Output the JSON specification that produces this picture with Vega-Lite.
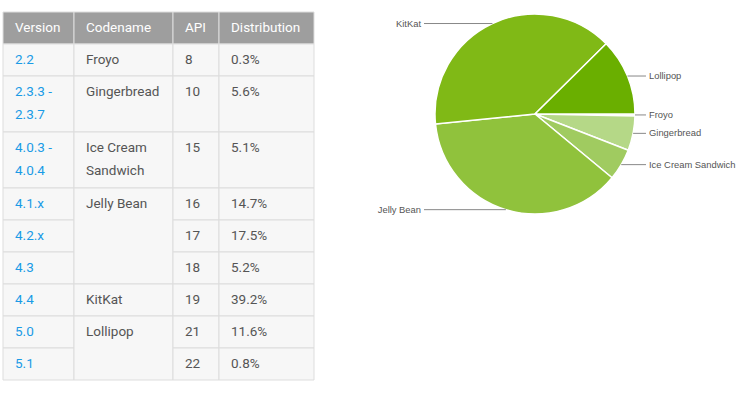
{
  "$schema": "https://vega.github.io/schema/vega-lite/v6.json",
  "padding": {"left": 2, "top": 11, "right": 2, "bottom": 2},
  "background": "white",
  "config": {"view": {"stroke": null}},
  "datasets": {
    "rows": [
      {"version": "Version", "codename": "Codename", "api": "API", "distribution": "Distribution", "header": true},
      {"version": "2.2", "codename": "Froyo", "api": "8", "distribution": "0.3%", "header": false},
      {"version": "2.3.3 -\n2.3.7", "codename": "Gingerbread", "api": "10", "distribution": "5.6%", "header": false},
      {"version": "4.0.3 -\n4.0.4", "codename": "Ice Cream\nSandwich", "api": "15", "distribution": "5.1%", "header": false},
      {"version": "4.1.x", "codename": "Jelly Bean", "api": "16", "distribution": "14.7%", "header": false},
      {"version": "4.2.x", "codename": "Jelly Bean", "api": "17", "distribution": "17.5%", "header": false},
      {"version": "4.3", "codename": "Jelly Bean", "api": "18", "distribution": "5.2%", "header": false},
      {"version": "4.4", "codename": "KitKat", "api": "19", "distribution": "39.2%", "header": false},
      {"version": "5.0", "codename": "Lollipop", "api": "21", "distribution": "11.6%", "header": false},
      {"version": "5.1", "codename": "Lollipop", "api": "22", "distribution": "0.8%", "header": false}
    ]
  },
  "spacing": 20,
  "hconcat": [
    {
      "spacing": 0,
      "bounds": "flush",
      "hconcat": [
        {
          "width": 71, "height": 368,
          "data": {"name": "rows"},
          "transform": [
            {"calculate": "(indexof(datum.version, '\\n') >= 0 || indexof(datum.codename, '\\n') >= 0) ? 56 : 32", "as": "h"},
            {"window": [{"op": "row_number", "as": "rowIdx"}]},
            {"window": [{"op": "sum", "field": "h", "as": "bottom"}], "sort": [{"field": "rowIdx"}], "frame": [null, 0]},
            {"calculate": "datum.bottom - datum.h", "as": "top"}
          ],
          "layer": [
            {
              "mark": {"type": "rect", "stroke": "#dddddd", "strokeWidth": 1},
              "encoding": {
                "x": {"value": 0}, "x2": {"value": "width"},
                "y": {"field": "top", "type": "quantitative", "scale": {"domain": [0, 368], "reverse": true}, "axis": null},
                "y2": {"field": "bottom"},
                "fill": {"condition": {"test": "datum.header", "value": "#9e9e9e"}, "value": "#f7f7f7"}
              }
            },
            {
              "mark": {"type": "text", "align": "left", "baseline": "top", "dx": 12, "dy": 9, "font": "Roboto", "fontSize": 13.5, "lineBreak": "\n", "lineHeight": 23},
              "encoding": {
                "x": {"value": 0},
                "y": {"field": "top", "type": "quantitative", "scale": {"domain": [0, 368], "reverse": true}, "axis": null},
                "text": {"field": "version", "type": "nominal"},
                "color": {"condition": {"test": "datum.header", "value": "#ffffff"}, "value": "#1a9be6"}
              }
            }
          ]
        },
        {
          "width": 99, "height": 368,
          "data": {"name": "rows"},
          "transform": [
            {"calculate": "(indexof(datum.version, '\\n') >= 0 || indexof(datum.codename, '\\n') >= 0) ? 56 : 32", "as": "h"},
            {"window": [{"op": "row_number", "as": "rowIdx"}]},
            {"window": [{"op": "sum", "field": "h", "as": "bottom"}], "sort": [{"field": "rowIdx"}], "frame": [null, 0]},
            {"calculate": "datum.bottom - datum.h", "as": "top"},
            {"aggregate": [{"op": "min", "field": "top", "as": "top"}, {"op": "max", "field": "bottom", "as": "bottom"}], "groupby": ["codename", "header"]}
          ],
          "layer": [
            {
              "mark": {"type": "rect", "stroke": "#dddddd", "strokeWidth": 1},
              "encoding": {
                "x": {"value": 0}, "x2": {"value": "width"},
                "y": {"field": "top", "type": "quantitative", "scale": {"domain": [0, 368], "reverse": true}, "axis": null},
                "y2": {"field": "bottom"},
                "fill": {"condition": {"test": "datum.header", "value": "#9e9e9e"}, "value": "#f7f7f7"}
              }
            },
            {
              "mark": {"type": "text", "align": "left", "baseline": "top", "dx": 12, "dy": 9, "font": "Roboto", "fontSize": 13.5, "lineBreak": "\n", "lineHeight": 23},
              "encoding": {
                "x": {"value": 0},
                "y": {"field": "top", "type": "quantitative", "scale": {"domain": [0, 368], "reverse": true}, "axis": null},
                "text": {"field": "codename", "type": "nominal"},
                "color": {"condition": {"test": "datum.header", "value": "#ffffff"}, "value": "#555555"}
              }
            }
          ]
        },
        {
          "width": 46, "height": 368,
          "data": {"name": "rows"},
          "transform": [
            {"calculate": "(indexof(datum.version, '\\n') >= 0 || indexof(datum.codename, '\\n') >= 0) ? 56 : 32", "as": "h"},
            {"window": [{"op": "row_number", "as": "rowIdx"}]},
            {"window": [{"op": "sum", "field": "h", "as": "bottom"}], "sort": [{"field": "rowIdx"}], "frame": [null, 0]},
            {"calculate": "datum.bottom - datum.h", "as": "top"}
          ],
          "layer": [
            {
              "mark": {"type": "rect", "stroke": "#dddddd", "strokeWidth": 1},
              "encoding": {
                "x": {"value": 0}, "x2": {"value": "width"},
                "y": {"field": "top", "type": "quantitative", "scale": {"domain": [0, 368], "reverse": true}, "axis": null},
                "y2": {"field": "bottom"},
                "fill": {"condition": {"test": "datum.header", "value": "#9e9e9e"}, "value": "#f7f7f7"}
              }
            },
            {
              "mark": {"type": "text", "align": "left", "baseline": "top", "dx": 12, "dy": 9, "font": "Roboto", "fontSize": 13.5, "lineBreak": "\n", "lineHeight": 23},
              "encoding": {
                "x": {"value": 0},
                "y": {"field": "top", "type": "quantitative", "scale": {"domain": [0, 368], "reverse": true}, "axis": null},
                "text": {"field": "api", "type": "nominal"},
                "color": {"condition": {"test": "datum.header", "value": "#ffffff"}, "value": "#555555"}
              }
            }
          ]
        },
        {
          "width": 95, "height": 368,
          "data": {"name": "rows"},
          "transform": [
            {"calculate": "(indexof(datum.version, '\\n') >= 0 || indexof(datum.codename, '\\n') >= 0) ? 56 : 32", "as": "h"},
            {"window": [{"op": "row_number", "as": "rowIdx"}]},
            {"window": [{"op": "sum", "field": "h", "as": "bottom"}], "sort": [{"field": "rowIdx"}], "frame": [null, 0]},
            {"calculate": "datum.bottom - datum.h", "as": "top"}
          ],
          "layer": [
            {
              "mark": {"type": "rect", "stroke": "#dddddd", "strokeWidth": 1},
              "encoding": {
                "x": {"value": 0}, "x2": {"value": "width"},
                "y": {"field": "top", "type": "quantitative", "scale": {"domain": [0, 368], "reverse": true}, "axis": null},
                "y2": {"field": "bottom"},
                "fill": {"condition": {"test": "datum.header", "value": "#9e9e9e"}, "value": "#f7f7f7"}
              }
            },
            {
              "mark": {"type": "text", "align": "left", "baseline": "top", "dx": 12, "dy": 9, "font": "Roboto", "fontSize": 13.5, "lineBreak": "\n", "lineHeight": 23},
              "encoding": {
                "x": {"value": 0},
                "y": {"field": "top", "type": "quantitative", "scale": {"domain": [0, 368], "reverse": true}, "axis": null},
                "text": {"field": "distribution", "type": "nominal"},
                "color": {"condition": {"test": "datum.header", "value": "#ffffff"}, "value": "#555555"}
              }
            }
          ]
        }
      ]
    },
    {
      "width": 400, "height": 204,
      "data": {"name": "rows"},
      "transform": [
        {"filter": "!datum.header"},
        {"calculate": "toNumber(replace(datum.distribution, '%', ''))", "as": "pct"},
        {"calculate": "toNumber(datum.api)", "as": "apiNum"},
        {"calculate": "replace(datum.codename, '\\n', ' ')", "as": "name"},
        {"aggregate": [{"op": "sum", "field": "pct", "as": "share"}, {"op": "min", "field": "apiNum", "as": "apiMin"}], "groupby": ["name"]},
        {"window": [{"op": "sum", "field": "share", "as": "cum"}], "sort": [{"field": "apiMin"}], "frame": [null, 0]},
        {"calculate": "(datum.cum - datum.share / 2) / 100 * 2 * PI", "as": "ang"},
        {"calculate": "100 * cos(datum.ang)", "as": "ex"},
        {"calculate": "100 * sin(datum.ang)", "as": "ey"},
        {"calculate": "datum.ex >= 0 ? 111 : -111", "as": "lx"},
        {"calculate": "datum.ex >= 0 ? 114 : -114", "as": "tx"}
      ],
      "layer": [
        {
          "mark": {"type": "arc", "radius": 100, "stroke": "#ffffff", "strokeWidth": 1.5},
          "encoding": {
            "theta": {"field": "share", "type": "quantitative", "stack": true, "scale": {"range": [1.5707963, 7.8539816]}},
            "order": {"field": "apiMin", "type": "quantitative", "sort": "ascending"},
            "color": {
              "field": "name", "type": "nominal", "legend": null,
              "scale": {
                "domain": ["Froyo", "Gingerbread", "Ice Cream Sandwich", "Jelly Bean", "KitKat", "Lollipop"],
                "range": ["#cbe3ad", "#b5d887", "#a0cb60", "#90c23c", "#80b916", "#6aaf00"]
              }
            }
          }
        },
        {
          "mark": {"type": "rule", "color": "#888888", "strokeWidth": 1},
          "encoding": {
            "x": {"field": "ex", "type": "quantitative", "scale": {"domain": [-200, 200]}, "axis": null},
            "x2": {"field": "lx"},
            "y": {"field": "ey", "type": "quantitative", "scale": {"domain": [-102, 102], "reverse": true}, "axis": null}
          }
        },
        {
          "transform": [{"filter": "datum.ex >= 0"}],
          "mark": {"type": "text", "align": "left", "baseline": "middle", "font": "Liberation Sans", "fontSize": 9.4, "color": "#555555"},
          "encoding": {
            "x": {"field": "tx", "type": "quantitative", "scale": {"domain": [-200, 200]}, "axis": null},
            "y": {"field": "ey", "type": "quantitative", "scale": {"domain": [-102, 102], "reverse": true}, "axis": null},
            "text": {"field": "name", "type": "nominal"}
          }
        },
        {
          "transform": [{"filter": "datum.ex < 0"}],
          "mark": {"type": "text", "align": "right", "baseline": "middle", "font": "Liberation Sans", "fontSize": 9.4, "color": "#555555"},
          "encoding": {
            "x": {"field": "tx", "type": "quantitative", "scale": {"domain": [-200, 200]}, "axis": null},
            "y": {"field": "ey", "type": "quantitative", "scale": {"domain": [-102, 102], "reverse": true}, "axis": null},
            "text": {"field": "name", "type": "nominal"}
          }
        }
      ]
    }
  ]
}
